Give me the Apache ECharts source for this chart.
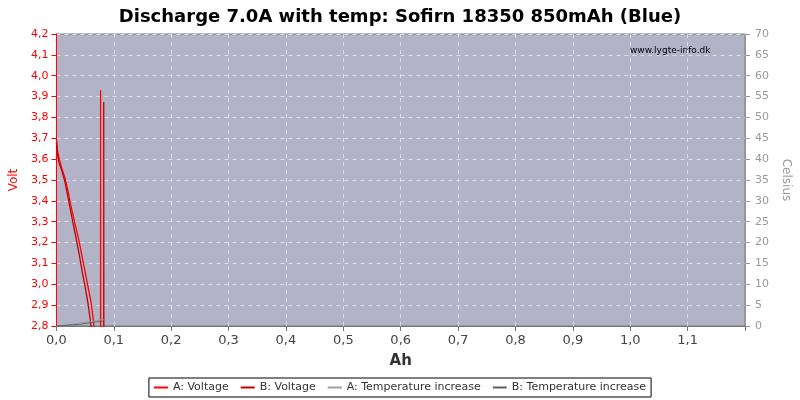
<!DOCTYPE html>
<html>
<head>
<meta charset="utf-8">
<script src="https://cdn.jsdelivr.net/npm/echarts@6/dist/echarts.min.js"></script>
<style>html,body{margin:0;padding:0;background:#fff}#c{width:800px;height:400px}</style>
</head>
<body>
<div id="c"></div>
<script>
var titleText = 'Discharge 7.0A with temp: Sofirn 18350 850mAh (Blue)';
var seriesNames = ['A: Voltage', 'B: Voltage', 'A: Temperature increase', 'B: Temperature increase'];
var xTicks = [0, 0.1, 0.2, 0.3, 0.4, 0.5, 0.6, 0.7, 0.8, 0.9, 1.0, 1.1];

var voltA = [
  [0, 3.70], [0.002, 3.64], [0.005, 3.60], [0.010, 3.55], [0.015, 3.51], [0.020, 3.45],
  [0.025, 3.38], [0.030, 3.32], [0.035, 3.26], [0.040, 3.20], [0.045, 3.13], [0.050, 3.06],
  [0.055, 2.99], [0.060, 2.92], [0.064, 2.84], [0.067, 2.75], [0.070, 2.70],
  [0.0770, 2.70], [0.0770, 3.93], [0.0772, 2.70]
];
var voltB = [
  [0, 3.68], [0.002, 3.62], [0.005, 3.58], [0.010, 3.54], [0.015, 3.49], [0.020, 3.42],
  [0.025, 3.35], [0.030, 3.28], [0.035, 3.21], [0.040, 3.14], [0.045, 3.06], [0.050, 2.99],
  [0.055, 2.91], [0.059, 2.83], [0.061, 2.78], [0.065, 2.70],
  [0.0825, 2.70], [0.0825, 3.874], [0.0827, 2.70]
];
var tempA = [
  [0, 0], [0.010, 0.1], [0.020, 0.3], [0.030, 0.5], [0.040, 0.7], [0.050, 0.9],
  [0.060, 1.1], [0.070, 1.3], [0.077, 1.5], [0.0825, 1.5]
];
var tempB = [
  [0, 0], [0.010, 0.1], [0.020, 0.2], [0.030, 0.3], [0.040, 0.4], [0.050, 0.6],
  [0.060, 0.8], [0.070, 1.0], [0.0825, 1.2]
];

var colors = ['#ff0000', '#c00000', '#a0a0a0', '#606060'];
var chart = echarts.init(document.getElementById('c'));
chart.setOption({
  animation: false,
  title: {
    text: titleText, left: 'center', top: 3,
    textStyle: { fontFamily: 'DejaVu Sans', fontSize: 18, fontWeight: 'bold', color: '#000' }
  },
  graphic: [{
    type: 'text', left: 630, top: 46,
    style: { text: 'www.lygte-info.dk', fontFamily: 'DejaVu Sans', fontSize: 9, fill: '#000' }
  }],
  legend: {
    bottom: 3, left: 'center', itemWidth: 14, itemHeight: 2, itemGap: 12,
    borderColor: '#000', borderWidth: 1, padding: [4, 5], borderRadius: 0,
    icon: 'rect',
    textStyle: { fontFamily: 'DejaVu Sans', fontSize: 11, color: '#333' },
    data: seriesNames
  },
  grid: { left: 56, right: 55, top: 34, bottom: 74, show: true, backgroundColor: '#b3b3c8', borderColor: '#777', borderWidth: 1 },
  xAxis: {
    type: 'value', min: 0, max: 1.2, interval: 0.1,
    name: 'Ah', nameLocation: 'middle', nameGap: 28,
    nameTextStyle: { fontFamily: 'DejaVu Sans', fontSize: 15, fontWeight: 'bold', color: '#333' },
    axisLine: { lineStyle: { color: '#777' } },
    axisTick: { show: true, lineStyle: { color: '#777' } },
    axisLabel: {
      fontFamily: 'DejaVu Sans', fontSize: 13, color: '#444', margin: 8,
      formatter: function (v) {
        var hit = xTicks.some(function (t) { return Math.abs(t - v) < 1e-6; });
        return hit ? v.toFixed(1).replace('.', ',') : '';
      }
    },
    splitLine: { show: true, lineStyle: { color: '#dcdce6', type: [4, 4] } }
  },
  yAxis: [{
    type: 'value', min: 2.8, max: 4.2, interval: 0.1,
    name: 'Volt', nameLocation: 'middle', nameGap: 32,
    nameTextStyle: { fontFamily: 'DejaVu Sans', fontSize: 12, color: '#ff0000' },
    axisLine: { show: true, lineStyle: { color: '#ff0000' } },
    axisTick: { show: true, lineStyle: { color: '#ff0000' } },
    axisLabel: { fontFamily: 'DejaVu Sans', fontSize: 11, color: '#ff0000', margin: 8,
      formatter: function (v) { return v.toFixed(1).replace('.', ','); } },
    splitLine: { show: true, lineStyle: { color: '#dcdce6', type: [4, 4] } }
  }, {
    type: 'value', min: 0, max: 70, interval: 5,
    name: 'Celsius', nameLocation: 'middle', nameGap: 30, nameRotate: -90,
    nameTextStyle: { fontFamily: 'DejaVu Sans', fontSize: 12, color: '#999' },
    axisLine: { show: true, lineStyle: { color: '#999' } },
    axisTick: { show: true, lineStyle: { color: '#999' } },
    axisLabel: { fontFamily: 'DejaVu Sans', fontSize: 11, color: '#999', margin: 10 },
    splitLine: { show: false }
  }],
  series: [
    { name: seriesNames[0], type: 'line', data: voltA, yAxisIndex: 0, showSymbol: false, color: colors[0], lineStyle: { width: 1.3 }, clip: true },
    { name: seriesNames[1], type: 'line', data: voltB, yAxisIndex: 0, showSymbol: false, color: colors[1], lineStyle: { width: 1.3 }, clip: true },
    { name: seriesNames[2], type: 'line', data: tempA, yAxisIndex: 1, showSymbol: false, color: colors[2], lineStyle: { width: 1 }, clip: true },
    { name: seriesNames[3], type: 'line', data: tempB, yAxisIndex: 1, showSymbol: false, color: colors[3], lineStyle: { width: 1 }, clip: true }
  ]
});
</script>
</body>
</html>
